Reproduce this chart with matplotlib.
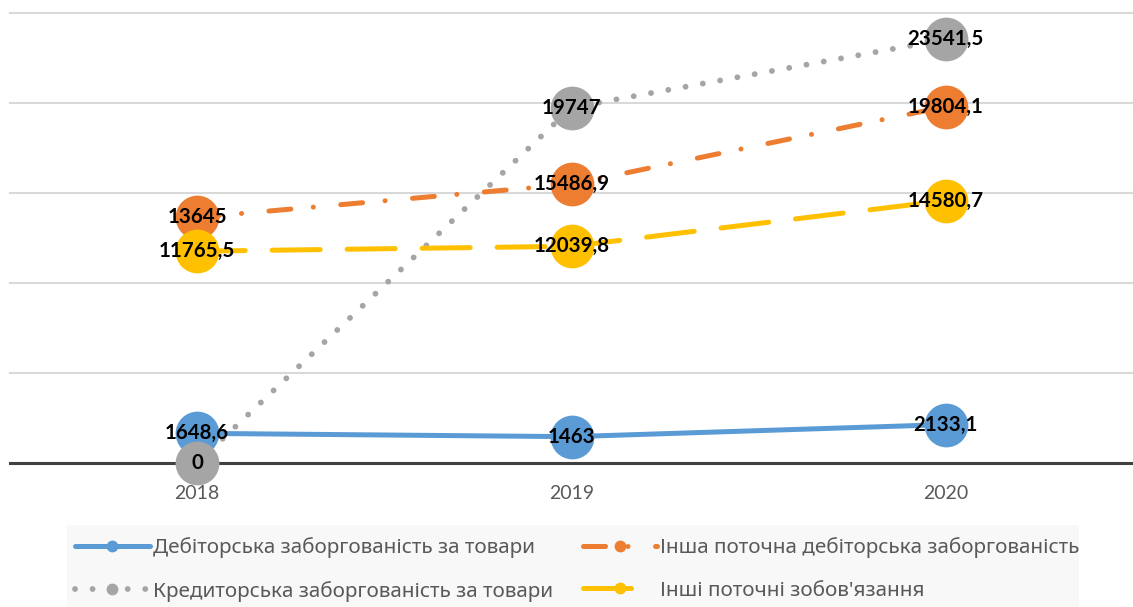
import numpy as np
import matplotlib.pyplot as plt
from matplotlib.lines import Line2D
from matplotlib.patches import Rectangle

years = ["2018", "2019", "2020"]
names = [
    "Дебіторська заборгованість за товари",
    "Інша поточна дебіторська заборгованість",
    "Кредиторська заборгованість за товари",
    "Інші поточні зобов'язання",
]
debit_goods = [1648.6, 1463, 2133.1]
other_debit = [13645, 15486.9, 19804.1]
credit_goods = [0, 19747, 23541.5]
other_liab = [11765.5, 12039.8, 14580.7]

series = [debit_goods, other_debit, credit_goods, other_liab]
colors = ["#5b9bd5", "#ed7d31", "#a5a5a5", "#ffc000"]
styles = ["-", (0, (4.4, 4.5, 0.01, 5.5)), (0, (0.01, 3.0)), (0, (9.6, 5.4))]
widths = [3.6, 3.6, 4.2, 3.6]

W, H = 1133, 607
fig = plt.figure(figsize=(W / 100, H / 100), dpi=100)
ax = fig.add_axes([10 / W, (H - 463) / H, 1 - 10 / W, 450 / H])
ax.set_xlim(-0.5, 2.5)
ax.set_ylim(0, 25000)
for s in ax.spines.values():
    s.set_visible(False)
ax.set_yticks([])

# сітка
for g in range(5000, 25001, 5000):
    ax.axhline(g, color="#d9d9d9", lw=1.5, clip_on=False, zorder=0)
ax.axhline(0, color="#404040", lw=2.2, clip_on=False, zorder=1)

x = np.arange(len(years))
ax.set_xticks(x, years)
ax.tick_params(axis="x", length=0, pad=16, labelcolor="#595959", labelsize=14)
for t in ax.get_xticklabels():
    t.set_family(["Lato", "DejaVu Sans"])

def fmt(v):
    return f"{v:g}".replace(".", ",")

for i, (vals, c, ls, lw) in enumerate(zip(series, colors, styles, widths)):
    ax.plot(x, vals, color=c, ls=ls, lw=lw, dash_capstyle="round",
            solid_capstyle="round", marker="o", markersize=31.5,
            markeredgewidth=0, clip_on=False, zorder=2 + i)

for vals in series:
    for xi, v in zip(x, vals):
        ax.text(xi, v, fmt(v), ha="center", va="center", fontsize=14.8,
                fontweight="bold", family=["Lato", "DejaVu Sans"], zorder=10)

# легенда
fig.patches.append(Rectangle((67 / W, 0), (1079 - 67) / W, (H - 525) / H,
                             transform=fig.transFigure, facecolor="#f8f8f8",
                             edgecolor="none", zorder=0))
handles = [Line2D([], [], color=c, ls=ls, lw=lw, dash_capstyle="round",
                  solid_capstyle="round", marker="o", markersize=8.5,
                  markeredgewidth=0)
           for c, ls, lw in zip(colors, styles, widths)]
order = [0, 2, 1, 3]
leg = fig.legend([handles[k] for k in order], [names[k] for k in order],
                 ncol=2, loc="upper left", bbox_to_anchor=(75 / W, (H - 537) / H),
                 frameon=False, borderpad=0, borderaxespad=0,
                 handlelength=3.6, handletextpad=0.15, columnspacing=1.45,
                 labelspacing=1.1,
                 prop={"family": ["Noto Sans", "DejaVu Sans"], "size": 14.9})
for t in leg.get_texts():
    t.set_color("#595959")

fig.savefig("out.png", dpi=100)
